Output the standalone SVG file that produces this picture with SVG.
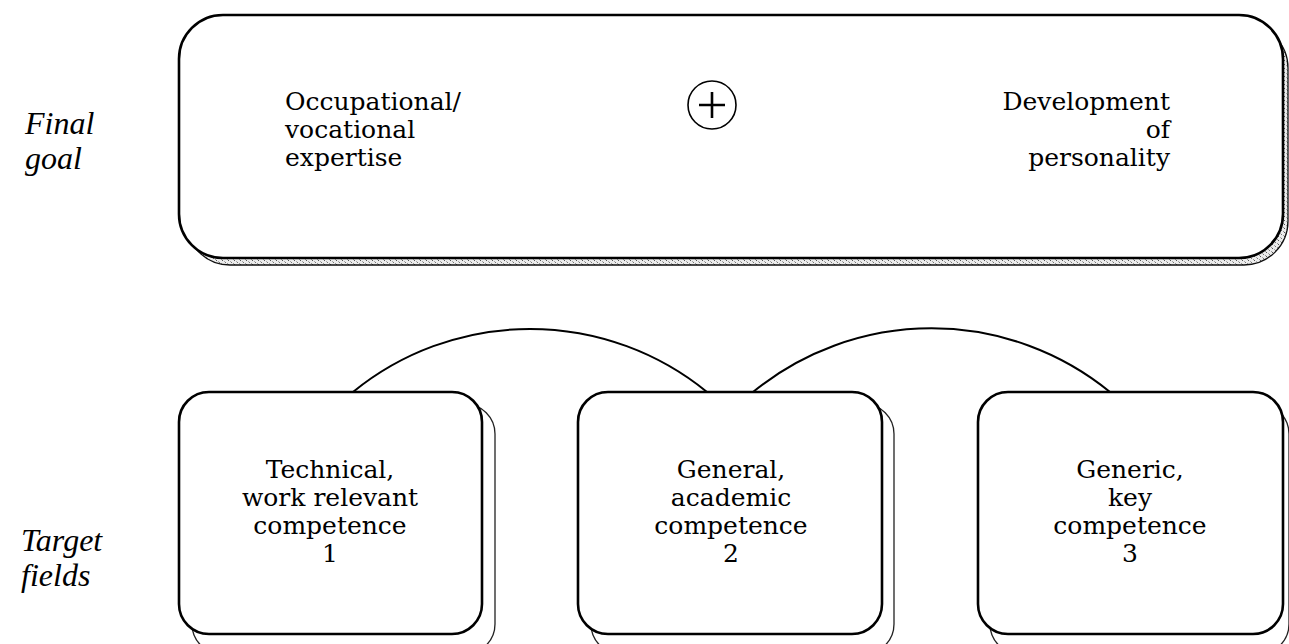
<svg xmlns="http://www.w3.org/2000/svg" width="1289" height="644" viewBox="0 0 1289 644">
  <defs>
    <pattern id="grain" width="6" height="4" patternUnits="userSpaceOnUse">
      <rect width="6" height="4" fill="#ececec"/>
      <rect x="0" y="0" width="1" height="1" fill="#555"/>
      <rect x="3" y="2" width="1" height="1" fill="#777"/>
      <rect x="2" y="1" width="1" height="1" fill="#aaa"/>
      <rect x="5" y="3" width="1" height="1" fill="#999"/>
    </pattern>
  </defs>
  <style>
    .box { fill: #ffffff; stroke: #000; stroke-width: 2.6; }
    .shadow { fill: url(#grain); stroke: #111; stroke-width: 1.3; }
    .shadow-plain { fill: #ffffff; stroke: #222; stroke-width: 1.3; }
    .link { fill: none; stroke: #000; stroke-width: 2; }
    .txt { font-family: "DejaVu Serif", "Liberation Serif", serif; font-size: 25px; fill: #000; }
    .side { font-family: "Liberation Serif", "DejaVu Serif", serif; font-style: italic; font-size: 32px; fill: #000; }
    .mid { text-anchor: middle; }
    .end { text-anchor: end; }
  </style>

  <rect width="1289" height="644" fill="#ffffff"/>

  <!-- row labels -->
  <g id="label-final-goal">
    <text class="side" x="25" y="134">Final</text>
    <text class="side" x="25" y="169">goal</text>
  </g>
  <g id="label-target-fields">
    <text class="side" x="21" y="551">Target</text>
    <text class="side" x="21" y="586">fields</text>
  </g>

  <!-- arcs linking the target fields -->
  <g id="connectors">
    <path class="link" d="M353,392 A280,280 0 0 1 707,392"/>
    <path class="link" d="M753,392 A282,282 0 0 1 1110,392"/>
  </g>

  <!-- final goal -->
  <g id="final-goal">
    <rect class="shadow" x="186" y="24" width="1102" height="241" rx="44" ry="44"/>
    <rect class="box" x="179" y="15" width="1104" height="243" rx="44" ry="44"/>
    <text class="txt" x="285" y="110">Occupational/</text>
    <text class="txt" x="285" y="138">vocational</text>
    <text class="txt" x="285" y="166">expertise</text>
    <g id="plus">
      <circle cx="712" cy="105" r="24" fill="#ffffff" stroke="#000" stroke-width="1.6"/>
      <path d="M699,105 H725 M712,92 V118" stroke="#000" stroke-width="2.6" fill="none"/>
    </g>
    <text class="txt end" x="1170" y="110">Development</text>
    <text class="txt end" x="1170" y="138">of</text>
    <text class="txt end" x="1170" y="166">personality</text>
  </g>

  <!-- target field 1 -->
  <g id="field-1">
    <rect class="shadow-plain" x="192" y="404" width="303" height="250" rx="30" ry="30"/>
    <rect class="box" x="179" y="392" width="303" height="242" rx="30" ry="30"/>
    <text class="txt mid" x="330" y="478">Technical,</text>
    <text class="txt mid" x="330" y="506">work relevant</text>
    <text class="txt mid" x="330" y="534">competence</text>
    <text class="txt mid" x="330" y="562">1</text>
  </g>

  <!-- target field 2 -->
  <g id="field-2">
    <rect class="shadow-plain" x="591" y="404" width="303" height="250" rx="30" ry="30"/>
    <rect class="box" x="578" y="392" width="304" height="242" rx="30" ry="30"/>
    <text class="txt mid" x="731" y="478">General,</text>
    <text class="txt mid" x="731" y="506">academic</text>
    <text class="txt mid" x="731" y="534">competence</text>
    <text class="txt mid" x="731" y="562">2</text>
  </g>

  <!-- target field 3 -->
  <g id="field-3">
    <rect class="shadow-plain" x="990" y="404" width="299" height="250" rx="30" ry="30"/>
    <rect class="box" x="978" y="392" width="305" height="242" rx="30" ry="30"/>
    <text class="txt mid" x="1130" y="478">Generic,</text>
    <text class="txt mid" x="1130" y="506">key</text>
    <text class="txt mid" x="1130" y="534">competence</text>
    <text class="txt mid" x="1130" y="562">3</text>
  </g>
</svg>
